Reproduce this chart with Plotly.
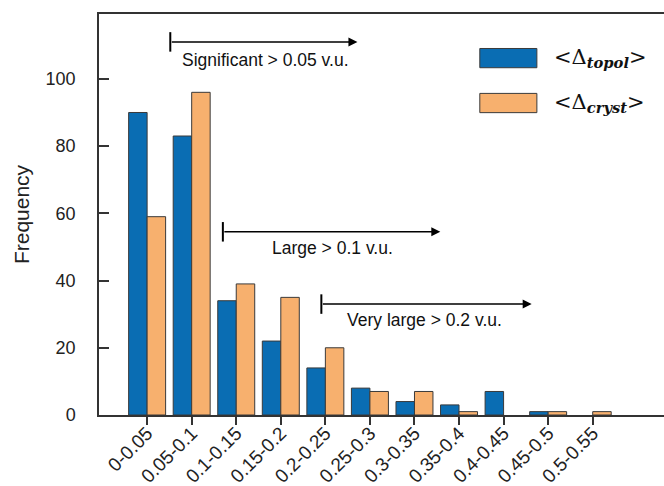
import plotly.graph_objects as go

categories = ["0-0.05", "0.05-0.1", "0.1-0.15", "0.15-0.2", "0.2-0.25", "0.25-0.3",
              "0.3-0.35", "0.35-0.4", "0.4-0.45", "0.45-0.5", "0.5-0.55"]
topol = [90, 83, 34, 22, 14, 8, 4, 3, 7, 1, 0]
cryst = [59, 96, 39, 35, 20, 7, 7, 1, 0, 1, 1]

blue = "#0a6db3"
orange = "#f7b06e"
edge = "#3a3a3a"
font = "Liberation Sans, Arial, sans-serif"


def edge_widths(vals):
    return [1 if v > 0 else 0 for v in vals]


fig = go.Figure()
fig.add_trace(go.Bar(x=categories, y=topol, name="topol",
                     marker=dict(color=blue, line=dict(color=edge, width=edge_widths(topol))),
                     showlegend=False))
fig.add_trace(go.Bar(x=categories, y=cryst, name="cryst",
                     marker=dict(color=orange, line=dict(color=edge, width=edge_widths(cryst))),
                     showlegend=False))

# arrows: (tail x, head x, y, label x, label y, text)
arrows = [
    (0.52, 4.72, 111.0, 0.74, 105.5, "Significant > 0.05 v.u."),
    (1.70, 6.58, 54.5, 2.76, 49.7, "Large > 0.1 v.u."),
    (3.91, 8.63, 33.0, 4.45, 28.3, "Very large > 0.2 v.u."),
]
anns = []
shapes = []
for tx, hx, yy, lx, ly, txt in arrows:
    anns.append(dict(x=hx, y=yy, ax=tx, ay=yy, xref="x", yref="y", axref="x", ayref="y",
                     text="", showarrow=True, arrowhead=2, arrowsize=1.2, arrowwidth=1.5,
                     arrowcolor="black", standoff=0))
    shapes.append(dict(type="line", xref="x", yref="y", x0=tx, x1=tx, y0=yy - 2.9, y1=yy + 2.9,
                       line=dict(color="black", width=2)))
    anns.append(dict(x=lx, y=ly, xref="x", yref="y", text=txt, showarrow=False,
                     xanchor="left", yanchor="middle", font=dict(family=font, size=17.5, color="#111")))

# custom legend
leg = [(blue, 0.89, "&lt;Δ<sub><b><i>topol</i></b></sub>&gt;"),
       (orange, 0.778, "&lt;Δ<sub><b><i>cryst</i></b></sub>&gt;")]
for col, yc, txt in leg:
    shapes.append(dict(type="rect", xref="paper", yref="paper", x0=0.674, x1=0.775,
                       y0=yc - 0.024, y1=yc + 0.024, fillcolor=col, line=dict(color=edge, width=1)))
    anns.append(dict(x=0.801, y=yc, xref="paper", yref="paper", text=txt, showarrow=False,
                     xanchor="left", yanchor="middle",
                     font=dict(family="DejaVu Serif, Liberation Serif, serif", size=21, color="#111")))

fig.update_layout(
    width=664, height=486,
    margin=dict(l=99, r=0, t=14, b=71),
    paper_bgcolor="white", plot_bgcolor="white",
    barmode="group", bargap=0.17, bargroupgap=0,
    font=dict(family=font, size=16, color="#222"),
    annotations=anns, shapes=shapes,
    xaxis=dict(range=[-1.08, 11.6], showline=True, linecolor="#333", linewidth=1.5, mirror=True,
               ticks="outside", ticklen=8, tickcolor="#333", tickwidth=1.5, tickangle=-45,
               ticklabelstandoff=-10,
               tickfont=dict(size=19), showgrid=False, zeroline=False, automargin=False),
    yaxis=dict(range=[0, 119.3], showline=True, linecolor="#333", linewidth=1.5, mirror=False,
               ticks="inside", ticklen=10, tickcolor="#333", tickwidth=1.5,
               ticklabelstandoff=18,
               tickvals=[0, 20, 40, 60, 80, 100], tickfont=dict(size=18),
               showgrid=False, zeroline=False, automargin=False,
               title=dict(text="Frequency", font=dict(size=21), standoff=10)),
)

fig.write_html("out.html")
